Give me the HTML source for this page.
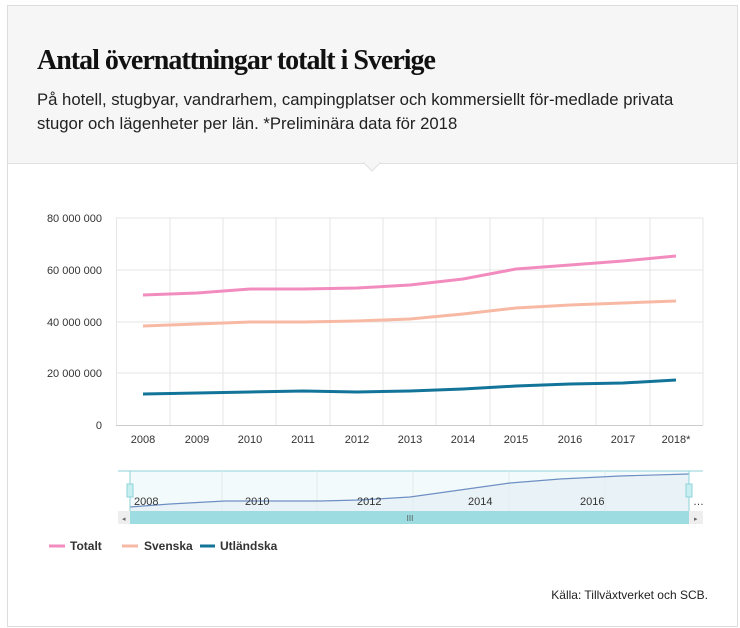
<!DOCTYPE html><html><head><meta charset="utf-8"><style>
body{margin:0;background:#fff;font-family:"Liberation Sans",sans-serif;}
.box{position:absolute;left:7px;top:5px;width:729px;height:620px;border:1px solid #ddd;}
.hdr{position:absolute;left:0;top:0;width:729px;height:157px;background:#f6f6f6;border-bottom:1px solid #e0e0e0;}
h1{position:absolute;left:29px;top:39px;margin:0;font-family:"Liberation Serif",serif;font-weight:bold;font-size:28px;letter-spacing:-1px;color:#111;white-space:nowrap;}
p{position:absolute;left:29px;top:82px;margin:0;font-size:16.7px;line-height:24px;color:#222;width:665px;}
</style></head><body>
<div class="box"><div class="hdr"><h1>Antal övernattningar totalt i Sverige</h1><p>På hotell, stugbyar, vandrarhem, campingplatser och kommersiellt för-medlade privata stugor och lägenheter per län. *Preliminära data för 2018</p></div></div>
<svg width="740" height="628" style="position:absolute;left:0;top:0" font-family="Liberation Sans,sans-serif">
<polygon points="364,163 372,171 380,163" fill="#f6f6f6" stroke="#e0e0e0"/><line x1="365" y1="163" x2="379" y2="163" stroke="#f6f6f6" stroke-width="2"/>
<g stroke="#e6e6e6">
<line x1="116" y1="218" x2="703" y2="218"/><line x1="116" y1="270" x2="703" y2="270"/><line x1="116" y1="322" x2="703" y2="322"/><line x1="116" y1="373" x2="703" y2="373"/>
<line x1="116.5" y1="218" x2="116.5" y2="425"/><line x1="170" y1="218" x2="170" y2="425"/><line x1="223" y1="218" x2="223" y2="425"/><line x1="276" y1="218" x2="276" y2="425"/><line x1="330" y1="218" x2="330" y2="425"/><line x1="383" y1="218" x2="383" y2="425"/><line x1="436" y1="218" x2="436" y2="425"/><line x1="490" y1="218" x2="490" y2="425"/><line x1="543" y1="218" x2="543" y2="425"/><line x1="596" y1="218" x2="596" y2="425"/><line x1="650" y1="218" x2="650" y2="425"/><line x1="703" y1="218" x2="703" y2="425"/>
</g>
<line x1="116" y1="425.5" x2="703" y2="425.5" stroke="#ccc"/>
<g font-size="11" fill="#333" text-anchor="end"><text x="102" y="222">80 000 000</text><text x="102" y="274">60 000 000</text><text x="102" y="326">40 000 000</text><text x="102" y="377">20 000 000</text><text x="102" y="429">0</text></g>
<g font-size="11" fill="#333" text-anchor="middle"><text x="143" y="443">2008</text><text x="197" y="443">2009</text><text x="250" y="443">2010</text><text x="303" y="443">2011</text><text x="357" y="443">2012</text><text x="410" y="443">2013</text><text x="463" y="443">2014</text><text x="516" y="443">2015</text><text x="570" y="443">2016</text><text x="623" y="443">2017</text><text x="676" y="443">2018*</text></g>
<g fill="none" stroke-width="3" stroke-linejoin="round">
<polyline stroke="#f28cbf" points="143,295 197,293 250,289 303,289 357,288 410,285 463,279 516,269 570,265 623,261 676,256"/>
<polyline stroke="#f7b9a4" points="143,326 197,324 250,322 303,322 357,321 410,319 463,314 516,308 570,305 623,303 676,301"/>
<polyline stroke="#137499" points="143,394 197,393 250,392 303,391 357,392 410,391 463,389 516,386 570,384 623,383 676,380"/>
</g>
<rect x="130" y="471" width="559" height="40" fill="#f3fafb"/>
<line x1="118" y1="471" x2="703" y2="471" stroke="#8fd3d8"/>
<g stroke="#e3eaea"><line x1="222" y1="471" x2="222" y2="511"/><line x1="317" y1="471" x2="317" y2="511"/><line x1="413" y1="471" x2="413" y2="511"/><line x1="509" y1="471" x2="509" y2="511"/><line x1="605" y1="471" x2="605" y2="511"/></g>
<path d="M130,507 L170,504 225,501 320,501 360,500 410,497 460,490 510,483 560,479 620,476 689,474 L689,511 130,511Z" fill="#e4eff5" opacity="0.7"/>
<polyline fill="none" stroke="#6e8fc4" stroke-width="1.2" points="130,507 170,504 225,501 320,501 360,500 410,497 460,490 510,483 560,479 620,476 689,474"/>
<line x1="130" y1="471" x2="130" y2="511" stroke="#8fd3d8"/><line x1="689" y1="471" x2="689" y2="511" stroke="#8fd3d8"/>
<rect x="127" y="484" width="6" height="13" fill="#c7eef0" stroke="#8fd3d8"/><rect x="686" y="484" width="6" height="13" fill="#c7eef0" stroke="#8fd3d8"/>
<g font-size="11" fill="#333"><text x="134" y="505">2008</text><text x="245" y="505">2010</text><text x="357" y="505">2012</text><text x="468" y="505">2014</text><text x="580" y="505">2016</text><text x="693" y="505">…</text></g>
<rect x="118" y="511" width="585" height="13" fill="#eee"/>
<rect x="130" y="511" width="559" height="13" fill="#9ddde2"/>
<text x="410" y="521" font-size="8" text-anchor="middle" fill="#555">III</text>
<text x="122" y="521" font-size="7" fill="#666">◂</text><text x="694" y="521" font-size="7" fill="#666">▸</text>
<g font-size="12" font-weight="bold" fill="#333">
<line x1="49" y1="546" x2="65" y2="546" stroke="#f28cbf" stroke-width="3"/><text x="70" y="550">Totalt</text>
<line x1="122" y1="546" x2="138" y2="546" stroke="#f7b9a4" stroke-width="3"/><text x="144" y="550">Svenska</text>
<line x1="200" y1="546" x2="215" y2="546" stroke="#137499" stroke-width="3"/><text x="220" y="550">Utländska</text>
</g>
<text x="708" y="599" font-size="12" fill="#222" text-anchor="end">Källa: Tillväxtverket och SCB.</text>
</svg></body></html>
